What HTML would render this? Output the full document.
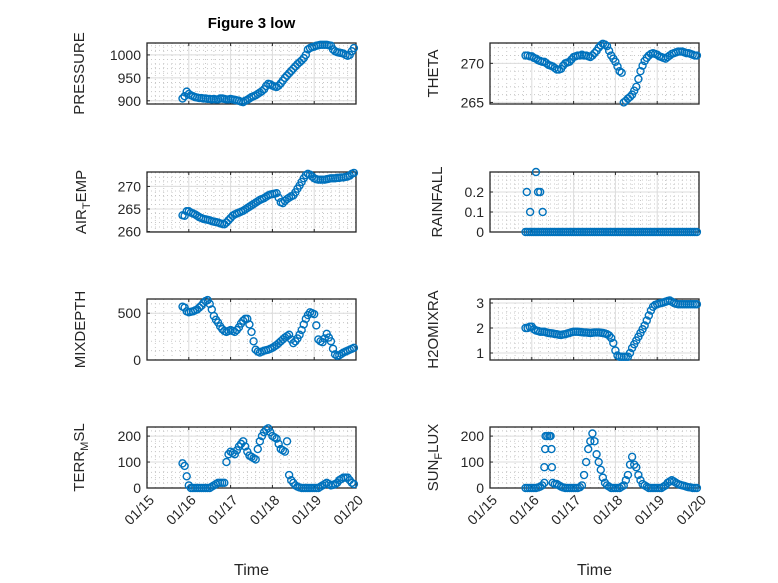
<!DOCTYPE html>
<html><head><meta charset="utf-8"><style>
html,body{margin:0;padding:0;background:#fff;}
svg{display:block;font-family:"Liberation Sans","DejaVu Sans",sans-serif;}
</style></head><body>
<svg id="fig" width="778" height="583" viewBox="0 0 778 583"></svg>
<script>
// ---- data (days since 01/15) ----
const tFine = [0.85,0.9,0.95,1.0,1.05,1.1,1.15,1.2,1.25,1.3,
1.35,1.4,1.45,1.5,1.55,1.6,1.65,1.7,1.75,1.8,
1.85,1.9,1.95,2.0,2.05,2.1,2.15,2.2,2.25,2.3,
2.35,2.4,2.45,2.5,2.55,2.6,2.65,2.7,2.75,2.8,
2.85,2.9,2.95,3.0,3.05,3.1,3.15,3.2,3.25,3.3,
3.35,3.4,3.45,3.5,3.55,3.6,3.65,3.7,3.75,3.8,
3.85,3.9,3.95,4.0,4.05,4.1,4.15,4.2,4.25,4.3,
4.35,4.4,4.45,4.5,4.55,4.6,4.65,4.7,4.75,4.8,
4.85,4.9,4.95];
const pressure = [905,910,920,915,912,910,908,907,906,906,
905,905,904,904,903,904,903,903,905,905,
904,903,903,904,903,902,901,900,898,897,
900,902,905,908,910,912,915,918,921,925,
932,937,936,933,931,930,933,938,944,950,
955,960,965,970,975,980,984,988,993,1000,
1012,1015,1017,1018,1020,1021,1022,1022,1022,1022,
1021,1020,1012,1008,1006,1005,1004,1003,1000,998,
1000,1008,1015];
const airTemp = [263.6,263.5,264.5,264.5,264.2,264,263.8,263.5,263.2,263,
262.8,262.7,262.6,262.5,262.3,262.2,262.1,262,261.8,261.7,
261.6,262,262.5,263,263.5,263.8,264,264.2,264.4,264.6,
264.9,265.2,265.5,265.8,266.1,266.4,266.7,267,267.2,267.4,
267.7,268,268.2,268.3,268.4,268.5,267.5,266.5,266.3,266.8,
267.2,267.5,267.8,268,268.7,269.5,270.2,271,271.8,272.5,
272.8,272.6,272.2,271.8,271.6,271.5,271.5,271.5,271.5,271.6,
271.7,271.8,271.8,271.8,271.9,271.9,272,272,272.1,272.2,
272.4,272.8,273];
const mixDepth = [570,560,520,510,515,520,530,540,560,580,
610,630,640,600,540,470,430,400,360,330,
310,300,310,320,310,300,320,350,390,420,
440,440,380,300,200,110,90,80,90,100,
105,110,120,130,145,160,180,200,220,240,
255,270,220,180,200,230,270,320,380,440,
480,510,500,490,370,220,200,190,230,280,
240,200,120,60,45,50,65,80,90,100,
110,120,130];
const terrMsl = [95,85,45,10,0,0,0,0,0,0,
0,0,0,0,5,10,15,20,20,20,
20,100,130,140,135,130,145,160,170,180,
160,140,125,120,115,110,150,180,200,215,
225,230,215,200,195,190,170,150,145,140,
180,50,30,20,10,5,2,0,0,0,
0,0,0,0,0,0,5,10,15,20,
15,10,12,15,20,30,35,40,40,40,
30,20,15];
const theta = [271,271,270.9,270.9,270.7,270.6,270.4,270.3,270.2,270.2,
270,269.8,269.7,269.6,269.4,269.2,269.2,269.3,269.7,270,
270.1,270.2,270.5,270.8,270.9,271,271,271.1,271,271,
270.9,270.8,271,271.3,271.6,272,272.3,272.5,272.4,272.2,
271.6,271,270.6,270.2,269.6,269,268.8,265,265.2,265.5,
265.7,266,266.5,267,268,269,269.7,270.3,270.7,271,
271.2,271.3,271.2,271.1,270.9,270.8,270.7,270.6,270.8,271,
271.2,271.3,271.4,271.5,271.5,271.5,271.4,271.3,271.3,271.2,
271.1,271,271];
const h2o = [2.0,2.0,2.05,2.05,1.95,1.9,1.88,1.85,1.85,1.85,
1.82,1.8,1.79,1.78,1.76,1.75,1.73,1.72,1.74,1.75,
1.78,1.8,1.83,1.85,1.85,1.85,1.84,1.83,1.82,1.82,
1.81,1.8,1.81,1.82,1.82,1.82,1.81,1.8,1.78,1.75,
1.7,1.6,1.4,1.1,0.9,0.85,0.85,0.85,0.85,0.85,
1.0,1.2,1.35,1.5,1.65,1.8,1.95,2.1,2.3,2.5,
2.7,2.85,2.92,2.95,2.98,3.0,3.02,3.05,3.08,3.1,
3.05,3.0,2.97,2.95,2.95,2.95,2.95,2.95,2.95,2.95,
2.95,2.95,2.95];
const rainBase = [0,0,0,0,0,0,0,0,0,0,
0,0,0,0,0,0,0,0,0,0,
0,0,0,0,0,0,0,0,0,0,
0,0,0,0,0,0,0,0,0,0,
0,0,0,0,0,0,0,0,0,0,
0,0,0,0,0,0,0,0,0,0,
0,0,0,0,0,0,0,0,0,0,
0,0,0,0,0,0,0,0,0,0,
0,0,0];
const rainSpikeT = [0.88,0.96,1.1,1.15,1.2,1.26];
const rainSpikeV = [0.2,0.1,0.3,0.2,0.2,0.1];
const sunT = [0.85,0.9,0.95,1.0,1.05,1.1,1.15,1.2,1.25,1.3,
1.3,1.32,1.33,1.37,1.42,1.45,1.47,1.48,1.5,1.55,
1.6,1.65,1.7,1.75,1.8,1.85,1.9,1.95,2.0,2.05,
2.1,2.15,2.2,2.25,2.3,2.35,2.4,2.45,2.5,2.55,
2.6,2.65,2.7,2.75,2.8,2.85,2.9,2.95,3.0,3.05,
3.1,3.15,3.2,3.25,3.3,3.35,3.4,3.45,3.5,3.55,
3.6,3.65,3.7,3.75,3.8,3.85,3.9,3.95,4.0,4.05,
4.1,4.15,4.2,4.25,4.3,4.35,4.4,4.45,4.5,4.55,
4.6,4.65,4.7,4.75,4.8,4.85,4.9,4.95];
const sunV = [0,0,0,0,0,0,2,5,10,20,
80,150,200,200,200,200,150,80,20,15,
15,10,5,2,0,0,0,0,0,0,
0,3,10,50,100,150,180,210,180,130,
100,70,40,20,10,5,0,0,0,0,
0,5,10,30,50,90,120,90,80,50,
30,15,10,5,0,0,0,0,0,0,
0,5,10,20,25,30,25,20,15,12,
10,8,5,3,2,0,0,0];
const xTickLabels = ["01/15","01/16","01/17","01/18","01/19","01/20"];

const NS = "http://www.w3.org/2000/svg";
const svg = document.getElementById("fig");
function mk(tag, attrs, parent){
  const e = document.createElementNS(NS, tag);
  for (const k in attrs) e.setAttribute(k, attrs[k]);
  (parent||svg).appendChild(e);
  return e;
}
const rainT = tFine.concat(rainSpikeT);
const rainV = rainBase.concat(rainSpikeV);
const panels = [
  {name:"pressure", x0:147, y0:43, y1:104, lo:893, hi:1026, ticks:[900,950,1000], minor:10, t:tFine, v:pressure, label:["PRESSURE"], lx:84, fmt:v=>v},
  {name:"air-temp", x0:147, y0:172, y1:232, lo:259.9, hi:273.2, ticks:[260,265,270], minor:1, t:tFine, v:airTemp, label:["AIR","T","EMP"], lx:86, fmt:v=>v},
  {name:"mixdepth", x0:147, y0:299, y1:360, lo:0, hi:652, ticks:[0,500], minor:100, t:tFine, v:mixDepth, label:["MIXDEPTH"], lx:85, fmt:v=>v},
  {name:"terr-msl", x0:147, y0:427, y1:488, lo:0, hi:235, ticks:[0,100,200], minor:20, t:tFine, v:terrMsl, label:["TERR","M","SL"], lx:84, fmt:v=>v},
  {name:"theta", x0:490, y0:43, y1:104, lo:264.8, hi:272.6, ticks:[265,270], minor:1, t:tFine, v:theta, label:["THETA"], lx:438, fmt:v=>v},
  {name:"rainfall", x0:490, y0:172, y1:232, lo:0, hi:0.3, ticks:[0,0.1,0.2], minor:0.02, t:rainT, v:rainV, label:["RAINFALL"], lx:442, fmt:v=>v===0?"0":String(v)},
  {name:"h2omixra", x0:490, y0:299, y1:360, lo:0.72, hi:3.16, ticks:[1,2,3], minor:0.2, t:tFine, v:h2o, label:["H2OMIXRA"], lx:438, fmt:v=>v},
  {name:"sun-flux", x0:490, y0:427, y1:488, lo:0, hi:235, ticks:[0,100,200], minor:20, t:sunT, v:sunV, label:["SUN","F","LUX"], lx:438, fmt:v=>v}
];
const W = 209, DAYS = 5;
panels.forEach((p, pi) => {
  const g = mk("g", {});
  
  
  const xs = t => p.x0 + t / DAYS * W;
  const ys = v => p.y1 - (v - p.lo) / (p.hi - p.lo) * (p.y1 - p.y0);
  for (let d = 0; d < DAYS; d++) for (let k = 1; k < 5; k++) {
    const x = xs(d + k / 5);
    const l = mk("line", {x1:x, x2:x, y1:p.y0, y2:p.y1, stroke:"#c8c8c8", "stroke-width":1, "stroke-dasharray":"1,3"}, g);
    
    
  }
  const mStart = Math.ceil(p.lo / p.minor);
  for (let m = mStart; m * p.minor <= p.hi; m++) {
    const y = ys(m * p.minor);
    const l = mk("line", {x1:p.x0, x2:p.x0 + W, y1:y, y2:y, stroke:"#c8c8c8", "stroke-width":1, "stroke-dasharray":"1,3"}, g);
    
    
  }
  for (let d = 1; d < DAYS; d++) {
    const x = xs(d);
    const l = mk("line", {x1:x, x2:x, y1:p.y0, y2:p.y1, stroke:"#dcdcdc", "stroke-width":1}, g);
    
    
  }
  p.ticks.forEach(tv => {
    const y = ys(tv);
    const l = mk("line", {x1:p.x0, x2:p.x0 + W, y1:y, y2:y, stroke:"#dcdcdc", "stroke-width":1}, g);
    
    
    const tk = mk("line", {x1:p.x0, x2:p.x0 + 3, y1:y, y2:y, stroke:"#262626", "stroke-width":1}, g);
    
    
    const tx = mk("text", {x:p.x0 - 6, y:y + 5, "text-anchor":"end", "font-size":"14", fill:"#262626"}, g);
    tx.textContent = p.fmt(tv);
    
    
  });
  for (let d = 0; d <= DAYS; d++) {
    const x = xs(d);
    const tk = mk("line", {x1:x, x2:x, y1:p.y1, y2:p.y1 - 3, stroke:"#262626", "stroke-width":1}, g);
    
    
    const tk2 = mk("line", {x1:x, x2:x, y1:p.y0, y2:p.y0 + 3, stroke:"#262626", "stroke-width":1}, g);
    
    
  }
  const box = mk("rect", {x:p.x0, y:p.y0, width:W, height:p.y1 - p.y0, fill:"none", stroke:"#262626", "stroke-width":1.3}, g);
  
  
  const n = Math.min(p.t.length, p.v.length);
  for (let i = 0; i < n; i++) {
    const c = mk("circle", {cx:xs(p.t[i]), cy:ys(p.v[i]), r:3.5, fill:"none", stroke:"#0072BD", "stroke-width":1.4}, g);
    
    
  }
  const cy = (p.y0 + p.y1) / 2;
  const yl = mk("text", {x:p.lx, y:cy, "text-anchor":"middle", "font-size":"15", fill:"#262626", transform:`rotate(-90 ${p.lx} ${cy})`}, g);
  
  
  if (p.label.length === 1) yl.textContent = p.label[0];
  else {
    const a = mk("tspan", {}, yl); a.textContent = p.label[0];
    const b = mk("tspan", {"font-size":"11", dy:"4"}, yl); b.textContent = p.label[1];
    const c = mk("tspan", {dy:"-4"}, yl); c.textContent = p.label[2];
  }
  if (pi === 3 || pi === 7) {
    xTickLabels.forEach((lab, d) => {
      const x = xs(d) + 8, y = 501;
      const tx = mk("text", {x:x, y:y, "text-anchor":"end", "font-size":"14", fill:"#262626", transform:`rotate(-45 ${x} ${y})`}, g);
      tx.textContent = lab;
      
      
    });
    const xl = mk("text", {x:p.x0 + W / 2, y:575, "text-anchor":"middle", "font-size":"16", fill:"#262626"}, g);
    xl.textContent = "Time";
    
    
  }
});
const title = mk("text", {x:251.5, y:28, "text-anchor":"middle", "font-size":"15", "font-weight":"bold", fill:"#000"});
title.textContent = "Figure 3 low";


</script>
</body></html>
